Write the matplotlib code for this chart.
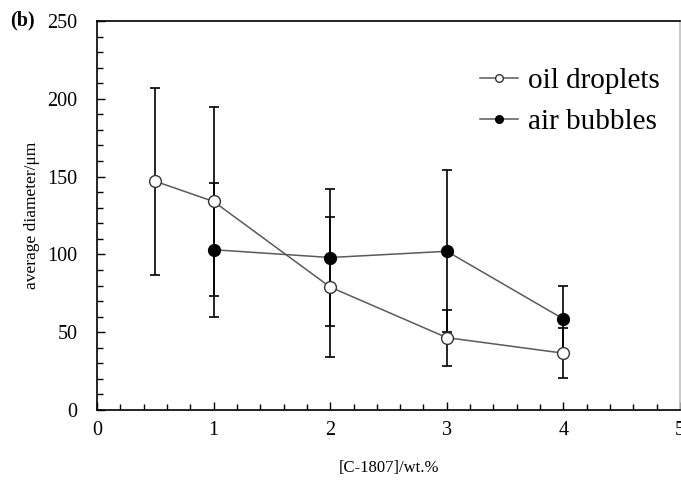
import numpy as np
import matplotlib
matplotlib.use("Agg")
import matplotlib.pyplot as plt
from matplotlib.ticker import MultipleLocator

plt.rcParams['font.family'] = ['Liberation Serif', 'DejaVu Serif']

# data
oil_x = [0.5, 1, 2, 3, 4]
oil_y = [147, 134, 79, 46.5, 36.5]
oil_err = [60, 61, 45, 18, 16]

air_x = [1, 2, 3, 4]
air_y = [103, 98, 102, 58.5]
air_err = [43, 44, 52, 21]

fig = plt.figure(figsize=(6.81, 4.82), dpi=100)
ax = fig.add_axes([0.1424, 0.1494, 0.8562, 0.807])

line_col = '#5a5a5a'
ax.errorbar(oil_x, oil_y, yerr=oil_err, fmt='none', ecolor='black',
            elinewidth=1.2, capsize=3.5, capthick=1.2, zorder=2)
ax.errorbar(air_x, air_y, yerr=air_err, fmt='none', ecolor='black',
            elinewidth=1.2, capsize=3.5, capthick=1.2, zorder=2)
ax.plot(oil_x, oil_y, '-o', color=line_col, lw=1.1, ms=8.5,
        mfc='white', mec='#333333', mew=1.0, label='oil droplets', zorder=3)
ax.plot(air_x, air_y, '-o', color=line_col, lw=1.1, ms=8.5,
        mfc='black', mec='black', label='air bubbles', zorder=3)

ax.set_xlim(0, 5)
ax.set_ylim(0, 250)
ax.xaxis.set_major_locator(MultipleLocator(1))
ax.xaxis.set_minor_locator(MultipleLocator(0.2))
ax.yaxis.set_major_locator(MultipleLocator(50))
ax.yaxis.set_minor_locator(MultipleLocator(10))
ax.tick_params(which='both', direction='in', labelsize=14.5, width=1.0,
               top=False, right=False)
ax.tick_params(which='major', length=6)
ax.tick_params(which='minor', length=4.5)
ax.tick_params(axis='y', which='major', pad=14)
ax.tick_params(axis='x', which='major', pad=8)
for sp in ax.spines.values():
    sp.set_linewidth(1.2)
ax.spines['right'].set_color('#c0c0c0')

ax.set_xlabel('[C-1807]/wt.%', fontsize=12, labelpad=14)
ax.set_ylabel('average diameter/μm', fontsize=12.5, labelpad=5)

ax.legend(loc='upper right', bbox_to_anchor=(0.965, 0.88), frameon=False,
          fontsize=21, handlelength=1.3, handletextpad=0.35,
          labelspacing=0.5, markerscale=0.65, borderpad=0, borderaxespad=0)

fig.text(0.015, 0.958, '(b)', fontsize=14.5, fontweight='bold', va='center')

fig.savefig('out.png', dpi=100)
